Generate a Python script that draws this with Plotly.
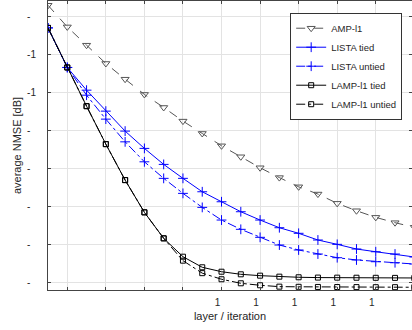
import plotly.graph_objects as go

layers = list(range(1, 21))

amp_l1 = [-3.56, -6.40, -8.80, -11.20, -13.26, -15.26, -16.97, -18.76, -20.38, -22.00,
          -23.44, -24.88, -26.17, -27.38, -28.33, -29.55, -30.52, -31.39, -32.09, -32.69]
lista_tied = [-6.53, -11.72, -14.70, -17.45, -20.07, -22.34, -24.44, -26.27, -28.03, -29.34,
              -30.65, -31.74, -32.75, -33.48, -34.36, -34.93, -35.54, -35.90, -36.20, -36.59]
lista_untied = [-6.53, -11.72, -15.36, -18.50, -21.48, -24.10, -26.27, -28.24, -30.08, -31.74,
                -32.96, -34.01, -35.02, -35.67, -36.20, -36.68, -36.98, -37.21, -37.34, -37.51]
lamp_tied = [-6.53, -11.72, -16.80, -21.78, -26.50, -30.73, -34.14, -36.55, -37.94, -38.52,
             -38.86, -39.04, -39.17, -39.25, -39.29, -39.30, -39.31, -39.32, -39.33, -39.34]
lamp_untied = [-6.53, -11.72, -16.80, -21.78, -26.50, -30.73, -34.14, -37.07, -38.71, -39.51,
               -40.04, -40.30, -40.48, -40.50, -40.52, -40.53, -40.54, -40.55, -40.55, -40.56]

x_tick_vals = [2, 4, 6, 8, 10, 12, 14, 16, 18, 20]
x_tick_text = ["", "", "", "", "1", "1", "1", "1", "1", ""]
y_tick_vals = [-40, -35, -30, -25, -20, -15, -10, -5]
y_tick_text = ["-\u2007", "-\u2007", "-\u2007", "-\u2007", "-\u2007", "-1", "-1", "-\u2007"]

series = [
    ("AMP-l1", amp_l1, "#555555", "dash", "triangle-down-open", 7),
    ("LISTA tied", lista_tied, "#0000ff", "solid", "cross-thin-open", 7),
    ("LISTA untied", lista_untied, "#0000ff", "dashdot", "cross-thin-open", 7),
    ("LAMP-l1 tied", lamp_tied, "#000000", "solid", "square-open", 5),
    ("LAMP-l1 untied", lamp_untied, "#000000", "dashdot", "square-open", 5),
]

fig = go.Figure()
for name, vals, col, dash, sym, size in series:
    fig.add_trace(go.Scatter(
        x=layers, y=vals, name=name, mode="lines+markers",
        line=dict(color=col, width=1, dash=dash),
        marker=dict(symbol=sym, size=size, color=col, line=dict(color=col, width=1)),
    ))

font_family = "Liberation Sans, Arial, sans-serif"
fig.update_layout(
    width=412, height=330,
    margin=dict(l=48, r=0, t=1, b=40, autoexpand=False),
    paper_bgcolor="white", plot_bgcolor="white",
    font=dict(family=font_family, size=10, color="#262626"),
    showlegend=True,
    legend=dict(
        x=0.973, y=0.9595, xanchor="right", yanchor="top",
        bgcolor="white", bordercolor="#333333", borderwidth=1,
        font=dict(size=9.5, color="#262626"),
        tracegroupgap=0,
    ),
)
fig.update_xaxes(
    range=[1, 19.88], tickmode="array", tickvals=x_tick_vals, ticktext=x_tick_text,
    ticks="inside", ticklen=3, tickcolor="#444444", automargin=False,
    showline=True, linecolor="#444444", linewidth=1, mirror="ticks",
    showgrid=True, gridcolor="#e3e3e3", gridwidth=1, zeroline=False,
    ticklabelshift=-4, ticklabelstandoff=3,
    title=dict(text="layer / iteration", font=dict(size=11), standoff=5),
)
fig.update_yaxes(
    range=[-40.92, -3.0], tickmode="array", tickvals=y_tick_vals, ticktext=y_tick_text,
    ticks="inside", ticklen=3, tickcolor="#444444", automargin=True,
    showline=True, linecolor="#444444", linewidth=1, mirror="ticks",
    showgrid=True, gridcolor="#e3e3e3", gridwidth=1, zeroline=False,
    ticklabelstandoff=9,
    title=dict(text="average NMSE [dB]", font=dict(size=11), standoff=3),
)

fig.write_html(
    "out.html",
    config={"responsive": False, "displayModeBar": False},
    post_script="document.body.style.margin='0';document.documentElement.style.overflow='hidden';",
)
